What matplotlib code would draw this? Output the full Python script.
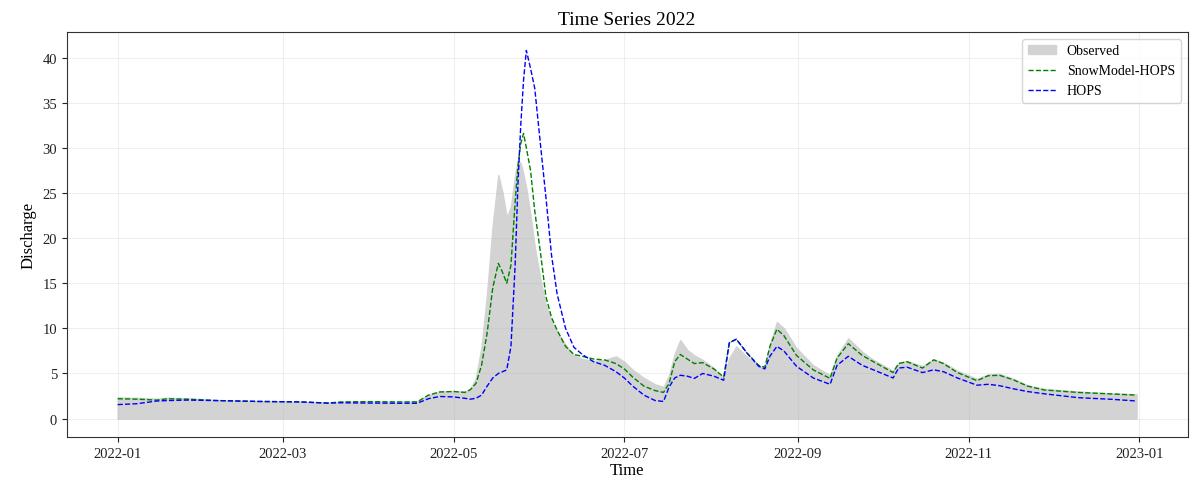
import matplotlib
matplotlib.use("Agg")
import matplotlib.pyplot as plt
import matplotlib.dates as mdates
import pandas as pd
import numpy as np

# Day offsets from 2022-01-01 at which values were read
days = [0, 7, 14, 18, 25, 35, 50, 65, 75, 80, 90, 100, 107, 111, 115, 120, 124, 126,
        128, 130, 132, 134, 136, 137.5, 139, 140.5, 142, 143, 144, 145, 146, 147.5,
        149, 151, 153, 155, 157, 160, 163, 166, 170, 174, 178, 181, 184, 188, 192,
        195, 197, 199, 201, 203.5, 206, 209, 213, 216.5, 218.5, 221, 225, 229, 231.2,
        233, 235.5, 238, 242.5, 248.5, 254.5, 257, 261, 266, 270, 277, 279, 282,
        287.5, 291.5, 295, 300, 307, 311, 315, 320, 325, 331, 343, 355, 364]

observed = [2.35, 2.3, 2.2, 2.3, 2.25, 2.05, 1.95, 1.85, 1.75, 1.85, 1.9, 1.85, 1.9,
            2.6, 3.0, 3.05, 3.0, 3.3, 4.5, 8.0, 14.0, 21.5, 27.0, 25.0, 22.3, 23.5,
            27.0, 28.6, 28.3, 27.0, 25.5, 22.5, 19.0, 15.5, 12.5, 10.8, 9.6, 8.2,
            7.0, 6.6, 6.4, 6.5, 6.9, 6.3, 5.4, 4.5, 3.8, 3.5, 4.8, 7.2, 8.7, 7.6,
            7.0, 6.5, 5.6, 4.5, 6.7, 8.0, 6.8, 5.8, 5.7, 8.2, 10.7, 10.0, 7.8, 5.9,
            4.8, 7.0, 8.9, 7.4, 6.5, 5.3, 6.2, 6.4, 5.8, 6.6, 6.2, 5.3, 4.4, 4.9,
            4.95, 4.4, 3.7, 3.3, 3.0, 2.8, 2.7]

snowmodel_hops = [2.2, 2.15, 2.05, 2.2, 2.15, 2.0, 1.9, 1.85, 1.72, 1.85, 1.88, 1.85,
                  1.85, 2.6, 2.95, 3.0, 2.9, 3.2, 3.9, 5.9, 9.5, 14.5, 17.2, 16.2,
                  15.0, 17.0, 24.0, 28.0, 30.5, 31.6, 30.0, 27.5, 23.0, 18.5, 13.5,
                  11.2, 9.8, 8.0, 7.1, 6.9, 6.6, 6.5, 6.1, 5.5, 4.6, 3.6, 3.1, 2.9,
                  3.9, 6.3, 7.1, 6.6, 6.1, 6.2, 5.5, 4.6, 8.4, 8.8, 7.2, 5.9, 5.7,
                  8.0, 9.9, 9.2, 7.0, 5.4, 4.45, 6.7, 8.3, 7.0, 6.3, 5.1, 6.1, 6.3,
                  5.6, 6.5, 6.1, 5.1, 4.2, 4.75, 4.8, 4.3, 3.6, 3.17, 2.9, 2.73, 2.6]

hops = [1.55, 1.65, 1.95, 2.0, 2.05, 2.0, 1.9, 1.85, 1.72, 1.75, 1.72, 1.7, 1.7,
        2.2, 2.45, 2.4, 2.25, 2.15, 2.25, 2.6, 3.6, 4.5, 5.0, 5.2, 5.4, 8.0, 17.0,
        26.0, 32.5, 37.5, 40.8, 38.8, 36.6, 30.5, 24.5, 18.1, 13.8, 10.0, 7.9,
        7.1, 6.3, 5.9, 5.2, 4.5, 3.6, 2.6, 2.0, 1.9, 3.5, 4.5, 4.8, 4.7, 4.45,
        5.0, 4.7, 4.25, 8.4, 8.8, 7.2, 5.8, 5.5, 6.9, 8.0, 7.5, 5.8, 4.5, 3.8,
        5.9, 6.9, 5.9, 5.4, 4.5, 5.6, 5.7, 5.1, 5.4, 5.2, 4.5, 3.7, 3.8, 3.65,
        3.3, 3.0, 2.75, 2.32, 2.14, 1.95]

start = pd.Timestamp("2022-01-01")
dates = start + pd.to_timedelta(days, unit="D")

plt.rcParams['font.family'] = ['Liberation Serif', 'DejaVu Serif']

fig = plt.figure(figsize=(12, 4.81), dpi=100)
ax = fig.add_axes([0.0556, 0.0894, 0.934, 0.842])

h_obs = ax.fill_between(dates, 0, observed, color='#d3d3d3', label='Observed')
h_smh, = ax.plot(dates, snowmodel_hops, linestyle='--', color='green', linewidth=1.0,
                 label='SnowModel-HOPS')
h_hops, = ax.plot(dates, hops, linestyle='--', color='blue', linewidth=1.0, label='HOPS')

ax.xaxis.set_major_locator(mdates.MonthLocator(bymonth=[1, 3, 5, 7, 9, 11]))
ax.xaxis.set_major_formatter(mdates.DateFormatter('%Y-%m'))
ax.set_yticks(range(0, 45, 5))
ax.tick_params(labelsize=10.5, colors='#222222')

for s in ax.spines.values():
    s.set_color('#333333')

ax.grid(True, alpha=0.2)
ax.set_title('Time Series 2022', fontsize=14)
ax.set_xlabel('Time', fontsize=12, labelpad=2)
ax.set_ylabel('Discharge', fontsize=12)

ax.legend(handles=[h_obs, h_smh, h_hops], loc='upper right', fontsize=10)

fig.savefig('out.png', dpi=100)
